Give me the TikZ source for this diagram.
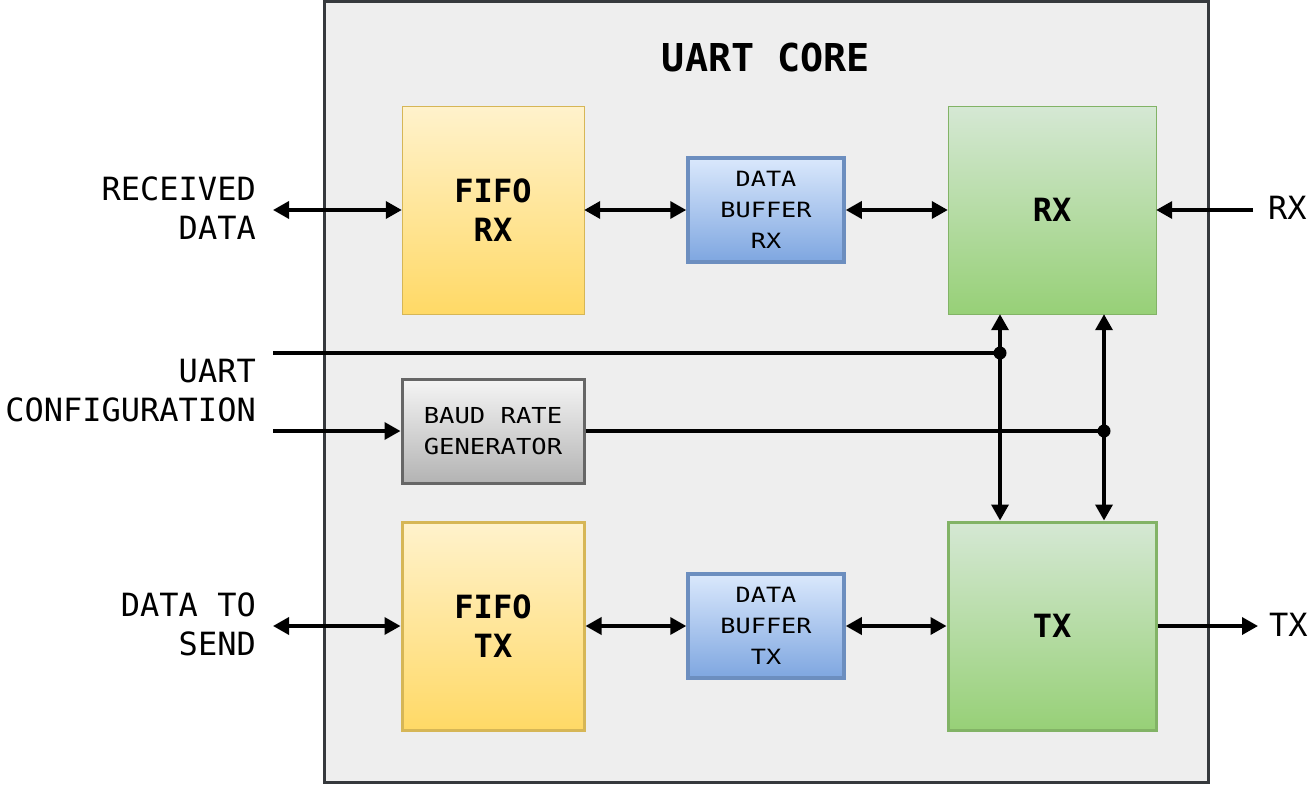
\documentclass[tikz,border=0pt]{standalone}
\usepackage{fontspec}
\setmainfont{DejaVu Sans Mono}
\newfontfamily\widemono[FakeStretch=1.2]{DejaVu Sans Mono}
\newfontfamily\baudmono[FakeStretch=1.16]{DejaVu Sans Mono}
\usepackage{tikz}
\usetikzlibrary{arrows.meta}
\definecolor{coreline}{HTML}{36393D}
\definecolor{corefill}{HTML}{EEEEEE}
\definecolor{yltop}{HTML}{FFF2CC}
\definecolor{ylbot}{HTML}{FFD966}
\definecolor{ylline}{HTML}{D6B656}
\definecolor{bltop}{HTML}{DAE8FC}
\definecolor{blbot}{HTML}{7EA6E0}
\definecolor{blline}{HTML}{6C8EBF}
\definecolor{grtop}{HTML}{D5E8D4}
\definecolor{grbot}{HTML}{97D077}
\definecolor{grline}{HTML}{82B366}
\definecolor{gytop}{HTML}{F5F5F5}
\definecolor{gybot}{HTML}{B3B3B3}
\definecolor{gyline}{HTML}{666666}
\tikzset{
  blk/.style={inner sep=0pt,align=center},
  fifoblk/.style={blk,draw=ylline,top color=yltop,bottom color=ylbot,minimum width=182pt,minimum height=208pt,font=\fontsize{32}{39}\selectfont\bfseries},
  bufblk/.style={blk,draw=blline,line width=3.5pt,top color=bltop,bottom color=blbot,minimum width=156pt,minimum height=104pt,font=\widemono\fontsize{21}{31}\selectfont},
  phyblk/.style={blk,draw=grline,top color=grtop,bottom color=grbot,minimum width=208pt,minimum height=208pt,font=\fontsize{32}{39}\selectfont\bfseries},
  iolbl/.style={inner sep=0pt,font=\fontsize{32}{39}\selectfont},
  wire/.style={line width=3.5pt}
}
\begin{document}
\begin{tikzpicture}[line cap=butt,line join=miter,>={Triangle[length=16pt,width=17pt]},x=1pt,y=-1pt]
\useasboundingbox (0,0) rectangle (1313,784);
\node[draw=coreline,fill=corefill,line width=3pt,minimum width=884pt,minimum height=780pt,inner sep=0pt] (core) at (766,392) {};
\node[inner sep=0pt,font=\fontsize{38.4}{46}\selectfont\bfseries] (title) at (766,58) {UART CORE};
\node[fifoblk] (fiforx) at (493,210) {FIFO\\RX};
\node[bufblk] (dbrx) at (766,210) {DATA\\BUFFER\\RX};
\node[phyblk] (rx) at (1052,210) {RX};
\node[blk,draw=gyline,line width=3pt,top color=gytop,bottom color=gybot,minimum width=182pt,minimum height=104pt,font=\baudmono\fontsize{22}{31}\selectfont] (baud) at (493,431) {BAUD RATE\\GENERATOR};
\node[fifoblk,line width=3pt] (fifotx) at (493,626) {FIFO\\TX};
\node[bufblk] (dbtx) at (766,626) {DATA\\BUFFER\\TX};
\node[phyblk,line width=3pt] (tx) at (1052,626) {TX};
\node[iolbl,align=right,anchor=east] (lblrecv) at (256,208.5) {RECEIVED\\DATA};
\node[iolbl,align=right,anchor=east] (lblcfg) at (256,390.5) {UART\\CONFIGURATION};
\node[iolbl,align=right,anchor=east] (lblsend) at (256,624.5) {DATA TO\\SEND};
\node[iolbl,anchor=west] (lblrx) at (1268,208) {RX};
\node[iolbl,anchor=west] (lbltx) at (1269,625) {TX};
\coordinate (recvend) at (273,210);
\coordinate (cfgend) at (273,353);
\coordinate (baudend) at (273,431);
\coordinate (sendend) at (273,626);
\coordinate (rxin) at (1253,210);
\coordinate (txout) at (1258,626);
\coordinate (cfgdot) at (1000,353);
\coordinate (bauddot) at (1104,431);
\draw[wire,<->] (recvend) -- (fiforx.west);
\draw[wire,<->] (fiforx.east) -- (dbrx.west);
\draw[wire,<->] (dbrx.east) -- (rx.west);
\draw[wire,->] (rxin) -- (rx.east);
\draw[wire] (cfgend) -- (cfgdot);
\draw[wire,->] (baudend) -- (baud.west);
\draw[wire] (baud.east) -- (bauddot);
\draw[wire,<->] (rx.south -| cfgdot) -- (tx.north -| cfgdot);
\draw[wire,<->] (rx.south -| bauddot) -- (tx.north -| bauddot);
\draw[wire,<->] (sendend) -- (fifotx.west);
\draw[wire,<->] (fifotx.east) -- (dbtx.west);
\draw[wire,<->] (dbtx.east) -- (tx.west);
\draw[wire,->] (tx.east) -- (txout);
\fill (cfgdot) circle (6.5pt);
\fill (bauddot) circle (6.5pt);
\end{tikzpicture}
\end{document}
